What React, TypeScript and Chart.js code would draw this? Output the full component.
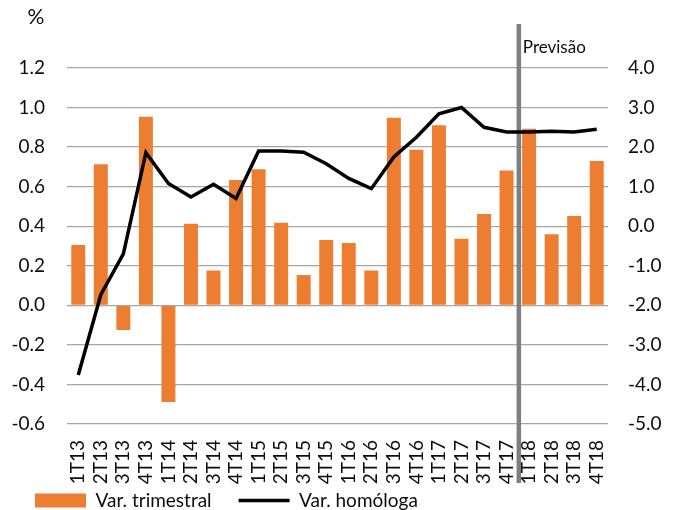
import React, { useEffect, useRef } from "react";
import { Chart, registerables } from "chart.js";

Chart.register(...registerables);

const categories = ["1T13","2T13","3T13","4T13","1T14","2T14","3T14","4T14","1T15","2T15","3T15","4T15","1T16","2T16","3T16","4T16","1T17","2T17","3T17","4T17","1T18","2T18","3T18","4T18"];
const varTrimestral = [0.305,0.713,-0.125,0.954,-0.489,0.413,0.176,0.634,0.688,0.417,0.153,0.33,0.315,0.176,0.948,0.787,0.91,0.337,0.462,0.682,0.893,0.36,0.452,0.73];
const varHomologa = [-3.76,-1.73,-0.7,1.86,1.08,0.74,1.06,0.7,1.9,1.9,1.87,1.58,1.21,0.95,1.75,2.25,2.84,3.0,2.5,2.38,2.38,2.4,2.38,2.45];
const leftTicks = [-0.6,-0.4,-0.2,0.0,0.2,0.4,0.6,0.8,1.0,1.2];
const rightTicks = [-5,-4,-3,-2,-1,0,1,2,3,4];
const forecastStartIndex = 20;
const forecastLabel = "Previsão";
const unitLabel = "%";

const FONT = "Lato";
const TICK_SIZE = 19;
const TEXT_COLOR = "#0d0d0d";

const overlayPlugin = {
  id: "overlay",
  afterLayout(chart: any) {
    if (chart.legend) {
      chart.legend.left = 8;
      chart.legend.top = 464;
    }
  },
  beforeDatasetsDraw(chart: any) {
    const { ctx } = chart;
    const x = chart.scales.x;
    const px = (x.getPixelForValue(forecastStartIndex - 1) + x.getPixelForValue(forecastStartIndex)) / 2 + 1;
    ctx.save();
    ctx.strokeStyle = "#7f7f7f";
    ctx.lineWidth = 4.5;
    ctx.beginPath();
    ctx.moveTo(px, 24);
    ctx.lineTo(px, 483);
    ctx.stroke();
    ctx.fillStyle = TEXT_COLOR;
    ctx.font = `17px ${FONT}`;
    ctx.textAlign = "left";
    ctx.textBaseline = "middle";
    ctx.fillText(forecastLabel, px + 4, 48);
    ctx.font = `21px ${FONT}`;
    ctx.textAlign = "center";
    ctx.fillText(unitLabel, 36, 17);
    ctx.restore();
  },
};

export default function App() {
  const ref = useRef<HTMLCanvasElement | null>(null);
  useEffect(() => {
    if (!ref.current) return;
    const chart = new Chart(ref.current, {
      type: "bar",
      data: {
        labels: categories,
        datasets: [
          {
            type: "bar",
            label: "Var. trimestral",
            data: varTrimestral,
            backgroundColor: "#ED7D31",
            borderWidth: 0,
            barPercentage: 0.62,
            categoryPercentage: 1,
            yAxisID: "y",
            order: 1,
            pointStyle: "rect",
          } as any,
          {
            type: "line",
            label: "Var. homóloga",
            data: varHomologa,
            borderColor: "#000000",
            backgroundColor: "#000000",
            borderWidth: 3.5,
            pointRadius: 0,
            tension: 0,
            yAxisID: "y1",
            order: 0,
            pointStyle: "line",
          } as any,
        ],
      },
      options: {
        animation: false,
        responsive: true,
        maintainAspectRatio: false,
        layout: { padding: { top: 68, left: 0, right: 0, bottom: 0 } },
        plugins: {
          tooltip: { enabled: false },
          legend: {
            position: "bottom",
            align: "start",
            maxHeight: 16,
            labels: {
              usePointStyle: true,
              pointStyleWidth: 51,
              boxHeight: 14,
              padding: 27,
              color: TEXT_COLOR,
              font: { family: FONT, size: 19 },
              sort: (a: any, b: any) => a.datasetIndex - b.datasetIndex,
            },
          },
        },
        scales: {
          x: {
            grid: { display: false, drawTicks: false },
            border: { display: false },
            ticks: {
              color: TEXT_COLOR,
              font: { family: FONT, size: TICK_SIZE },
              maxRotation: 90,
              minRotation: 90,
              autoSkip: false,
              padding: 16,
            },
            afterFit: (s: any) => {
              s.height = 70;
            },
          },
          y: {
            position: "left",
            min: -0.6,
            max: 1.2,
            afterBuildTicks: (s: any) => {
              s.ticks = leftTicks.map((v) => ({ value: v }));
            },
            grid: { color: "#a6a6a6", lineWidth: 1.3, drawTicks: false },
            border: { display: false },
            ticks: {
              color: TEXT_COLOR,
              font: { family: FONT, size: TICK_SIZE },
              padding: 22,
              callback: (v: any) => Number(v).toFixed(1),
            },
            afterFit: (s: any) => {
              s.width = 67;
            },
          },
          y1: {
            position: "right",
            min: -5,
            max: 4,
            afterBuildTicks: (s: any) => {
              s.ticks = rightTicks.map((v) => ({ value: v }));
            },
            grid: { display: false, drawTicks: false },
            border: { display: false },
            ticks: {
              color: TEXT_COLOR,
              font: { family: FONT, size: TICK_SIZE },
              padding: 20,
              callback: (v: any) => Number(v).toFixed(1),
            },
            afterFit: (s: any) => {
              s.width = 67;
            },
          },
        },
      },
      plugins: [overlayPlugin],
    });
    return () => chart.destroy();
  }, []);
  return (
    <div style={{ position: "absolute", left: 0, top: 0, width: 675, height: 510 }}>
      <canvas ref={ref} />
    </div>
  );
}
